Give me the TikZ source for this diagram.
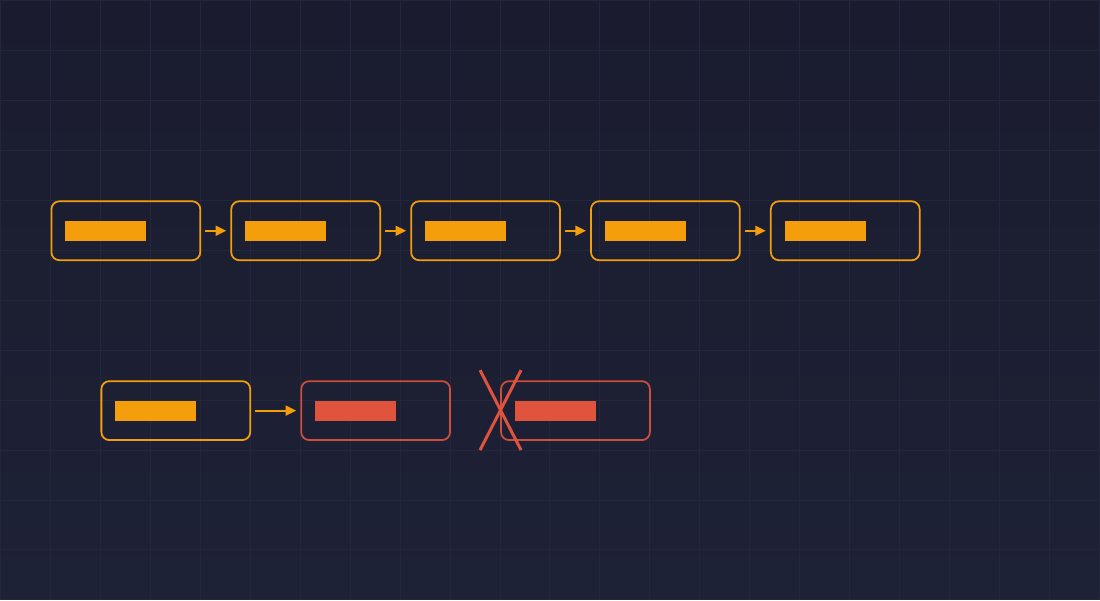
\documentclass[tikz,border=0pt]{standalone}
\usepackage{tikz}
\usetikzlibrary{positioning}
\usetikzlibrary{arrows.meta}
\usepackage{xcolor}

\definecolor{bgtop}{HTML}{1A1B2E}
\definecolor{bgbottom}{HTML}{1E2236}
\definecolor{gridline}{HTML}{23273C}
\definecolor{amber}{HTML}{F59E0B}
\definecolor{redlink}{HTML}{E0533D}

\begin{document}
\begin{tikzpicture}[x=0.02cm, y=-0.02cm,
  blockbox/.style={draw, rounded corners=0.16cm, line width=1pt,
    minimum width=2.98cm, minimum height=1.18cm, inner sep=0pt, outer sep=0pt},
  blockbar/.style={fill, minimum width=1.62cm, minimum height=0.4cm,
    inner sep=0pt, outer sep=0pt},
  link/.style={amber, line width=1.1pt, shorten <=0.1cm, shorten >=0.1cm,
    -{Triangle[length=6pt, width=5.6pt]}}]

% background
\shade[top color=bgtop, bottom color=bgbottom] (0,0) rectangle (1100,600);
\draw[gridline, line width=0.5pt, step=1cm] (0,0) grid (1100,600);
\useasboundingbox (0,0) rectangle (1100,600);

% chain
\node[blockbox, amber] (b1) at (125.5,230.5) {};
\node[blockbox, amber] (b2) at (305.5,230.5) {};
\node[blockbox, amber] (b3) at (485.5,230.5) {};
\node[blockbox, amber] (b4) at (665.5,230.5) {};
\node[blockbox, amber] (b5) at (845.5,230.5) {};

\node[blockbar, amber, right=0.28cm of b1.west] (b1bar) {};
\node[blockbar, amber, right=0.28cm of b2.west] (b2bar) {};
\node[blockbar, amber, right=0.28cm of b3.west] (b3bar) {};
\node[blockbar, amber, right=0.28cm of b4.west] (b4bar) {};
\node[blockbar, amber, right=0.28cm of b5.west] (b5bar) {};

\draw[link] (b1.east) -- (b2.west);
\draw[link] (b2.east) -- (b3.west);
\draw[link] (b3.east) -- (b4.west);
\draw[link] (b4.east) -- (b5.west);

% broken link
\node[blockbox, amber] (c1) at (175.5,410.5) {};
\node[blockbox, redlink, draw opacity=0.9] (c2) at (375.5,410.5) {};
\node[blockbox, redlink, draw opacity=0.9] (c3) at (575.5,410.5) {};

\node[blockbar, amber, right=0.28cm of c1.west] (c1bar) {};
\node[blockbar, redlink, right=0.28cm of c2.west] (c2bar) {};
\node[blockbar, redlink, right=0.28cm of c3.west] (c3bar) {};

\draw[link] (c1.east) -- (c2.west);

\draw[redlink, line width=1.7pt] (480,370) -- (521,450);
\draw[redlink, line width=1.7pt] (521,370) -- (480,450);

\end{tikzpicture}
\end{document}
